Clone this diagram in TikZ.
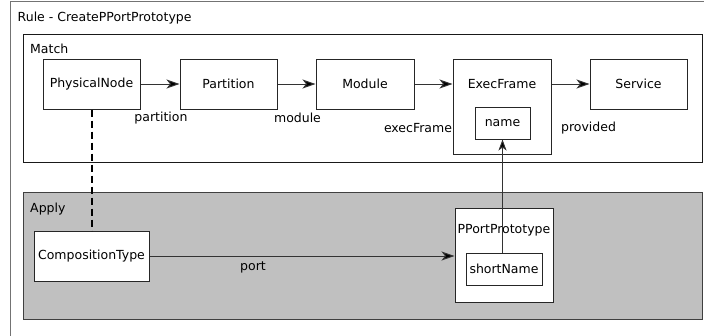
\documentclass[tikz,border=0pt]{standalone}
\usepackage{fontspec}
\setmainfont{DejaVu Sans}
\usetikzlibrary{arrows.meta}
\begin{document}
\begin{tikzpicture}[x=1pt,y=-1pt,
  font=\fontsize{12.5}{14}\selectfont,
  box/.style={draw=black!85, line width=1pt, fill=white, inner sep=0pt, align=center},
  lbl/.style={inner sep=0pt},
  arr/.style={draw=black!80, line width=1pt, -{Stealth[length=13pt,width=9pt,inset=3.5pt,fill=black]}},
  thinarr/.style={draw=black!80, line width=0.9pt, -{Stealth[length=11pt,width=8pt,inset=3pt,fill=black]}}
]
\useasboundingbox (0,0) rectangle (704,335);
\clip (0,0) rectangle (704,335);
% outer rule frame
\draw[draw=black!55, line width=1pt] (10.5,1) rectangle (740,360);
\node[lbl, anchor=west] (ruleT) at (17.5,18) {Rule - CreatePPortPrototype};
% match frame
\draw[draw=black!90, line width=1pt] (23.5,34.5) rectangle (702.5,162.5);
\node[lbl, anchor=west] (matchT) at (30,49) {Match};
% apply frame
\draw[draw=black!75, fill={rgb,255:red,192;green,192;blue,192}, line width=1pt] (23.5,192.5) rectangle (702.5,319.5);
\node[lbl, anchor=west] (applyT) at (30,209) {Apply};

% match nodes
\node[box, minimum width=97pt, minimum height=50pt] (pn) at (91.5,84) {PhysicalNode};
\node[box, minimum width=97pt, minimum height=50pt] (part) at (228.5,84) {Partition};
\node[box, minimum width=98pt, minimum height=50pt] (mod) at (365,84) {Module};
\node[box, minimum width=98pt, minimum height=95pt] (ef) at (502,106.5) {};
\node[lbl] (efT) at (502,84) {ExecFrame};
\node[box, minimum width=55pt, minimum height=32pt] (name) at (502.5,123) {name};
\node[box, minimum width=97pt, minimum height=50pt] (serv) at (638.5,84) {Service};

\draw[arr] (pn.east) -- (part.west);
\draw[arr] (part.east) -- (mod.west);
\draw[arr] (mod.east) -- (ef.west |- mod.east);
\draw[arr] (ef.east |- serv.west) -- (serv.west);

\node[lbl] (lpart) at (161,118) {partition};
\node[lbl] (lmod) at (297.5,118) {module};
\node[lbl] (lef) at (418,128) {execFrame};
\node[lbl] (lprov) at (588.5,128) {provided};

% apply nodes
\node[box, minimum width=115pt, minimum height=50pt] (ct) at (91.5,256) {CompositionType};
\node[box, minimum width=98pt, minimum height=94pt] (pp) at (504,255) {};
\node[lbl] (ppT) at (504,230) {PPortPrototype};
\node[box, minimum width=76pt, minimum height=32pt] (sn) at (504,269) {shortName};

\draw[draw=black, line width=2pt, dash pattern=on 7pt off 4pt] (pn.south) -- (ct.north);
\draw[arr] (ct.east) -- (ct.east -| pp.west);
\node[lbl] (lport) at (253,267) {port};
\draw[thinarr] (sn.north -| name.south) -- (name.south);
\end{tikzpicture}
\end{document}
